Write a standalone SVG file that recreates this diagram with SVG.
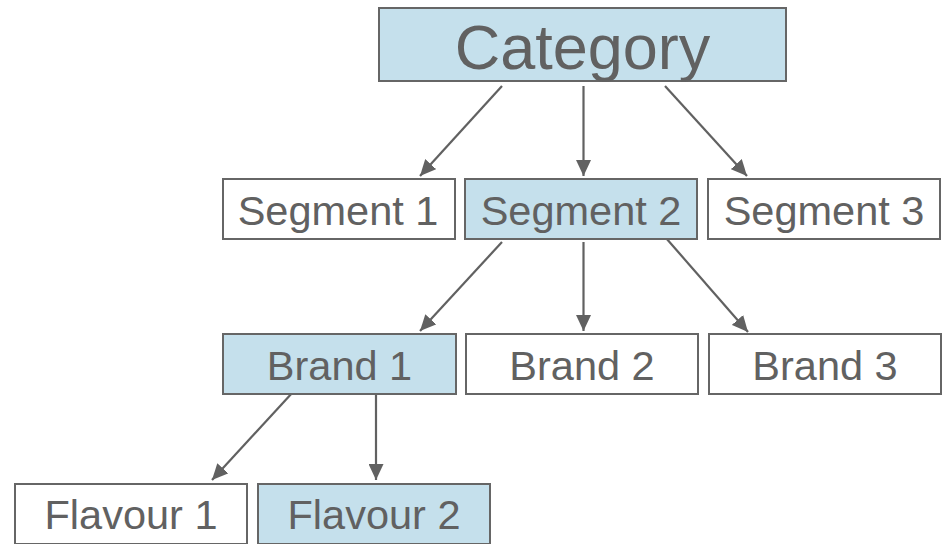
<svg xmlns="http://www.w3.org/2000/svg" width="944" height="544" viewBox="0 0 944 544">
<defs>
<style>
.box{stroke:#666;stroke-width:2}
.hl{fill:#C5E0EC}
.wh{fill:#fff}
text{font-family:"Liberation Sans",Arial,sans-serif;fill:#616161;text-anchor:middle}
.t{font-size:41.5px}
.c{font-size:63px}
.conn line{stroke:#616161;stroke-width:2.2;marker-end:url(#ah)}
</style>
<marker id="ah" markerUnits="userSpaceOnUse" markerWidth="17" markerHeight="15" refX="16" refY="7.5" orient="auto">
<path d="M0,0 L16,7.5 L0,15 Z" fill="#616161"/>
</marker>
</defs>
<rect width="944" height="544" fill="#fff"/>
<g class="conn">
<line x1="502" y1="86" x2="420" y2="176"/>
<line x1="583.5" y1="86" x2="583.5" y2="176"/>
<line x1="665" y1="86" x2="747" y2="176"/>
<line x1="502" y1="242" x2="420" y2="331"/>
<line x1="583.5" y1="242" x2="583.5" y2="331"/>
<line x1="666" y1="238" x2="748" y2="332"/>
<line x1="293" y1="392" x2="212" y2="480"/>
<line x1="376" y1="392" x2="376" y2="480"/>
</g>
<g id="category"><rect class="box hl" x="379" y="8" width="407" height="73"/><text class="c" x="582.5" y="69">Category</text></g>
<g id="segment1"><rect class="box wh" x="223" y="179" width="232" height="60"/><text class="t" x="338" y="225">Segment 1</text></g>
<g id="segment2"><rect class="box hl" x="465" y="179" width="232" height="60"/><text class="t" x="581" y="225">Segment 2</text></g>
<g id="segment3"><rect class="box wh" x="708" y="179" width="232" height="60"/><text class="t" x="824" y="225">Segment 3</text></g>
<g id="brand1"><rect class="box hl" x="223" y="334" width="233" height="60"/><text class="t" x="339.5" y="380">Brand 1</text></g>
<g id="brand2"><rect class="box wh" x="466" y="334" width="232" height="60"/><text class="t" x="582" y="380">Brand 2</text></g>
<g id="brand3"><rect class="box wh" x="709" y="334" width="232" height="60"/><text class="t" x="825" y="380">Brand 3</text></g>
<g id="flavour1"><rect class="box wh" x="15" y="484" width="232" height="60"/><text class="t" x="131" y="529">Flavour 1</text></g>
<g id="flavour2"><rect class="box hl" x="258" y="484" width="232" height="60"/><text class="t" x="374" y="529">Flavour 2</text></g>
</svg>
